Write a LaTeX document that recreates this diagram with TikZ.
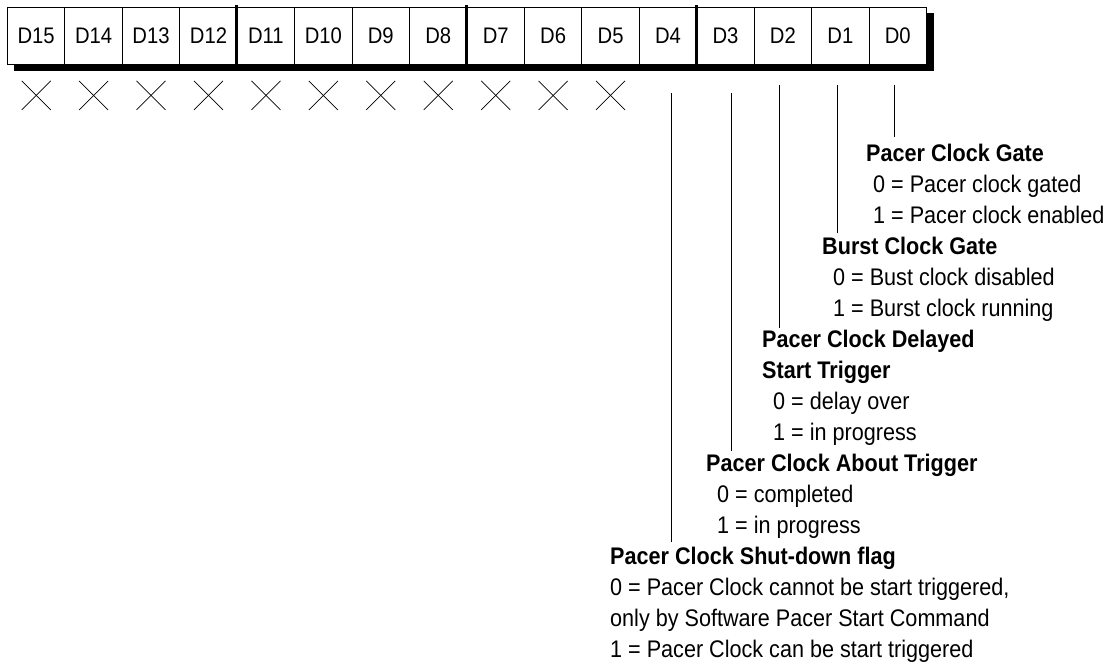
\documentclass[tikz,border=0pt]{standalone}
\usepackage{fontspec}
\setmainfont{Liberation Sans}[FakeStretch=0.9]
\begin{document}
\begin{tikzpicture}[x=1pt,y=-1pt,
  bitbox/.style={draw, line width=0.9pt, fill=white, minimum width=57.44pt,
    minimum height=57pt, inner sep=0pt, anchor=north west,
    font=\fontsize{22.5}{25}\selectfont},
  groupsep/.style={line width=3pt},
  shadow/.style={fill=black},
  unused/.style={line width=0.7pt},
  lead/.style={line width=0.9pt},
  head/.style={anchor=base west, inner sep=0pt, font=\fontsize{24}{28}\selectfont\bfseries},
  val/.style={anchor=base west, inner sep=0pt, font=\fontsize{24}{28}\selectfont}]

% page area
\fill[white] (0,0) rectangle (1119,667);

% drop shadow behind the register
\fill[shadow] (14,13) rectangle (934,71);

% the sixteen bit cells, D15 on the left
\foreach \i in {0,...,15} {
  \pgfmathsetmacro\xx{7+(15-\i)*57.44}
  \node[bitbox] (b\i) at (\xx,7) {D\i};
}

% heavier dividers between nibbles
\foreach \i in {11,7,3} {
  \draw[groupsep] ([yshift=2pt]b\i.north west) -- (b\i.south west);
}

% unused bits D15..D5
\foreach \i in {5,...,15} {
  \draw[unused] ([xshift=-14.5pt,yshift=-16pt]b\i.south) -- ([xshift=14.5pt,yshift=-45pt]b\i.south);
  \draw[unused] ([xshift=14.5pt,yshift=-16pt]b\i.south) -- ([xshift=-14.5pt,yshift=-45pt]b\i.south);
}

% field descriptions
\node[head] (h0)  at (866,161)    {Pacer Clock Gate};
\node[val]  (v0a) at (873,192.06) {0 = Pacer clock gated};
\node[val]  (v0b) at (873,223.12) {1 = Pacer clock enabled};

\node[head] (h1)  at (822,254.18) {Burst Clock Gate};
\node[val]  (v1a) at (833,285.24) {0 = Bust clock disabled};
\node[val]  (v1b) at (833,316.3)  {1 = Burst clock running};

\node[head] (h2)  at (762,347.36) {Pacer Clock Delayed};
\node[head] (h2b) at (762,378.42) {Start Trigger};
\node[val]  (v2a) at (773,409.48) {0 = delay over};
\node[val]  (v2b) at (773,440.54) {1 = in progress};

\node[head] (h3)  at (706,471.6)  {Pacer Clock About Trigger};
\node[val]  (v3a) at (717,502.66) {0 = completed};
\node[val]  (v3b) at (717,533.72) {1 = in progress};

\node[head] (h4)  at (610,564.78) {Pacer Clock Shut-down flag};
\node[val]  (v4a) at (610,595.84) {0 = Pacer Clock cannot be start triggered,};
\node[val]  (v4b) at (610,626.9)  {only by Software Pacer Start Command};
\node[val]  (v4c) at (610,657.96) {1 = Pacer Clock can be start triggered};

% leader lines from bits to their descriptions
\coordinate (l0a) at (894,85);  \coordinate (l0b) at (894,137);
\coordinate (l1a) at (837,85);  \coordinate (l1b) at (837,233);
\coordinate (l2a) at (779,85);  \coordinate (l2b) at (779,328);
\coordinate (l3a) at (731,93);  \coordinate (l3b) at (731,451);
\coordinate (l4a) at (671,93);  \coordinate (l4b) at (671,542);
\foreach \k in {0,...,4} {
  \draw[lead] (l\k a) -- (l\k b);
}
\end{tikzpicture}
\end{document}
